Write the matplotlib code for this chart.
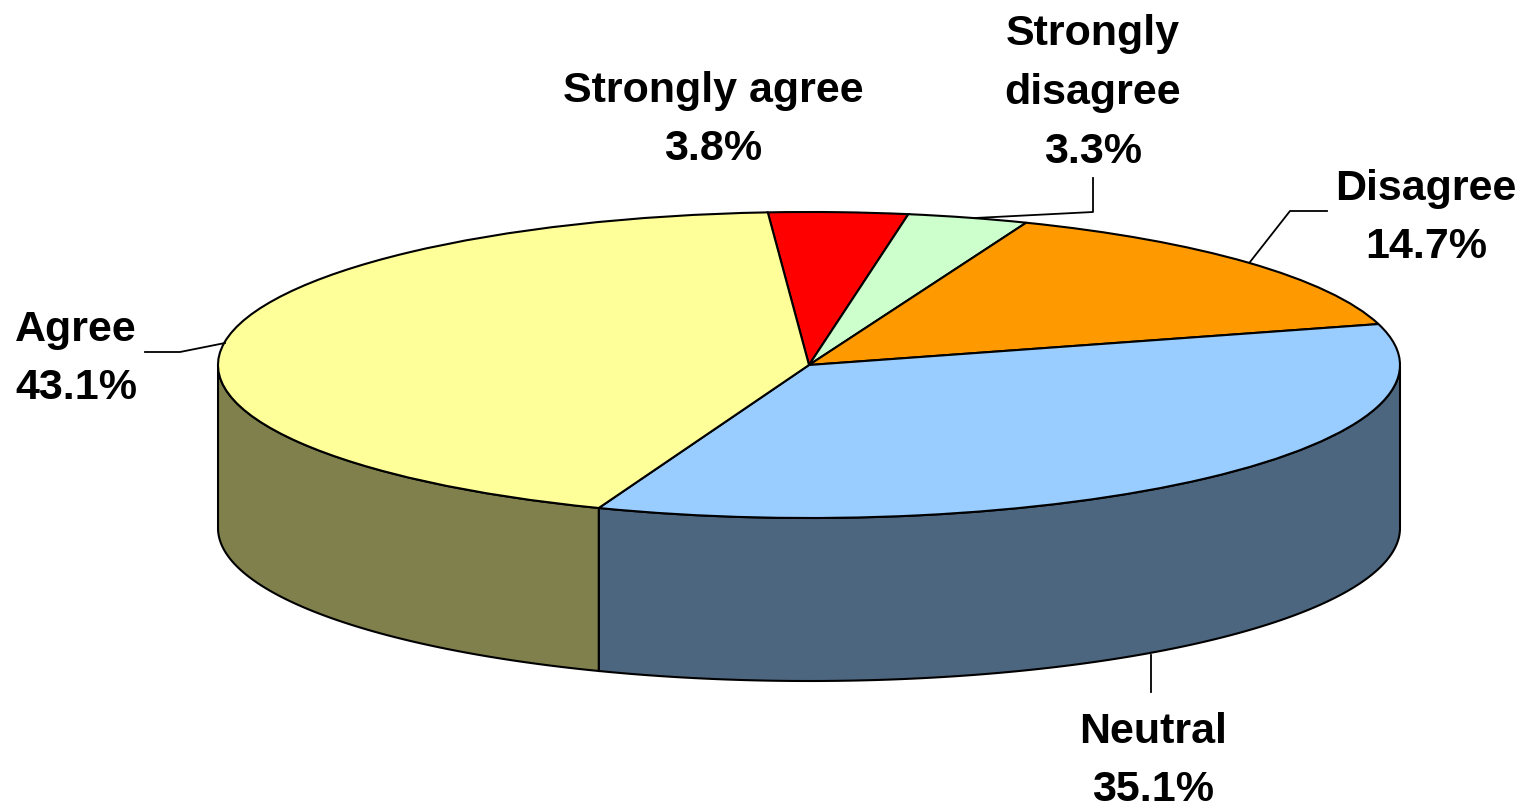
import matplotlib
matplotlib.use('Agg')
import matplotlib.pyplot as plt
import numpy as np

W, H = 1527, 808

labels = ['Strongly agree', 'Strongly\ndisagree', 'Disagree', 'Neutral', 'Agree']
valores = [3.8, 3.3, 14.7, 35.1, 43.1]
cores = ['#FF0000', '#CCFFCC', '#FF9900', '#99CCFF', '#FFFF99']
cores_lado = ['#800000', '#668066', '#804D00', '#4D6680', '#80804D']

# pie geometry in pixels of the original picture
cx, cy = 809, 365
rx, ry = 591, 153
altura = 163 / ry
inicio = 94  # first slice starts just left of the top

plt.rcParams['font.family'] = ['Liberation Sans', 'DejaVu Sans']

fig = plt.figure(figsize=(W / 100, H / 100), dpi=100)
ax = fig.add_axes([0, 0, 1, 1])

# side wall, one piece for every slice that reaches the front
total = sum(valores)
ang = inicio
for v, c in zip(valores, cores_lado):
    fim = ang - v / total * 360
    t = np.radians(np.linspace(ang, fim, 200))
    t = t[np.sin(t) <= 0]
    if len(t) > 0:
        xs = np.cos(t)
        ys = np.sin(t)
        ax.fill(np.r_[xs, xs[::-1]], np.r_[ys, ys[::-1] - altura],
                facecolor=c, edgecolor='black', linewidth=1.5, zorder=1)
    ang = fim

ax.pie(valores, colors=cores, startangle=inicio, counterclock=False,
       wedgeprops={'edgecolor': 'black', 'linewidth': 1.5, 'zorder': 2})

ax.set_aspect('auto')
ax.set_xlim(-cx / rx, (W - cx) / rx)
ax.set_ylim(-(H - cy) / ry, cy / ry)
ax.axis('off')


def px(x, y):
    return x / W, 1 - y / H


# leader lines
linhas = [
    [(1093, 178), (1093, 212), (975, 218)],
    [(1327, 211), (1290, 211), (1250, 262)],
    [(1151, 692), (1151, 655)],
    [(145, 352), (180, 352), (225, 343)],
]
for ln in linhas:
    pts = [px(*p) for p in ln]
    fig.add_artist(plt.Line2D([p[0] for p in pts], [p[1] for p in pts],
                              color='black', linewidth=1.3))

pos_texto = [(713, 120), (1093, 93), (1426, 218), (1153, 761), (76, 359)]
for lab, v, (x, y) in zip(labels, valores, pos_texto):
    xf, yf = px(x, y)
    fig.text(xf, yf, f'{lab}\n{v}%', ha='center', va='center', fontsize=31,
             fontweight='bold', linespacing=1.6)

fig.savefig('out.png', dpi=100, facecolor='white')
